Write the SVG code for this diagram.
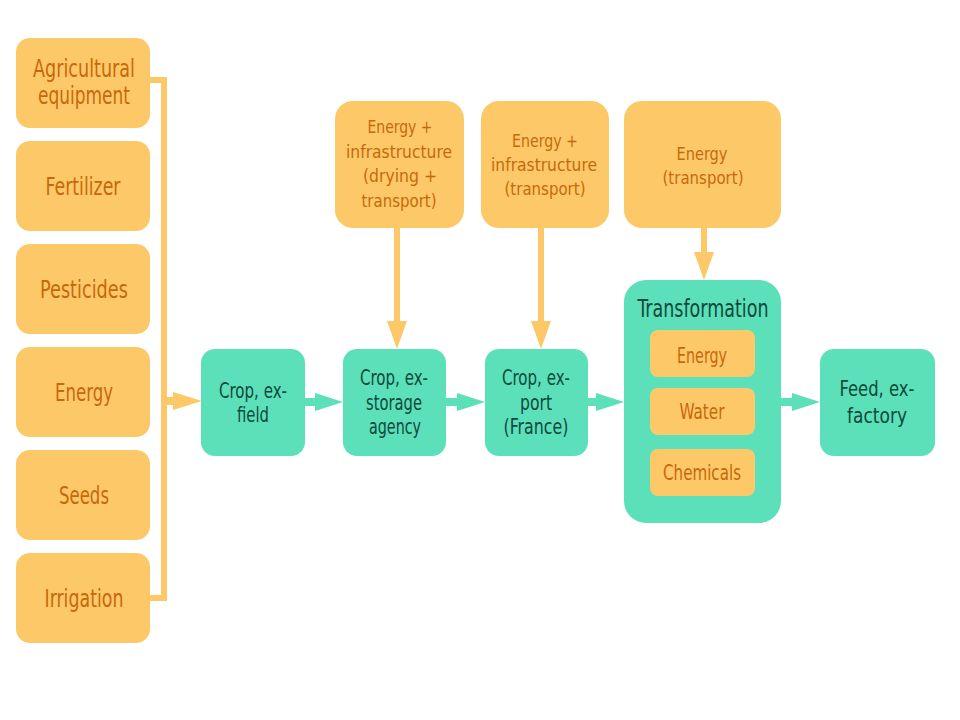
<svg xmlns="http://www.w3.org/2000/svg" width="960" height="720" viewBox="0 0 960 720">
<style>
.o{fill:#FDC968}
.t{fill:#5BE0BA}
text{font-family:"DejaVu Sans Condensed","DejaVu Sans",sans-serif;text-anchor:middle}
.ot{fill:#C8680C}
.tt{fill:#0D4A3A}
.ol{stroke:#FDC968;stroke-width:6;fill:none}
.ols{stroke:#FDC968;stroke-width:8;fill:none}
.tl{stroke:#5BE0BA;stroke-width:8;fill:none}
</style>
<rect width="960" height="720" fill="#fff"/>
<g id="connectors">
<polyline class="ol" points="150,80 164,80 164,598 150,598"/>
<line class="ols" x1="164" y1="401" x2="176" y2="401"/>
<polygon class="o" points="173,392 202,401 173,410"/>
<line class="ol" x1="397" y1="228" x2="397" y2="325"/>
<polygon class="o" points="387,321 397,349 407,321"/>
<line class="ol" x1="541" y1="228" x2="541" y2="325"/>
<polygon class="o" points="531,321 541,349 551,321"/>
<line class="ol" x1="704" y1="228" x2="704" y2="256"/>
<polygon class="o" points="694,252 704,280 714,252"/>
<line class="tl" x1="305" y1="402" x2="318" y2="402"/>
<polygon class="t" points="315,393 343,402 315,411"/>
<line class="tl" x1="446" y1="402" x2="460" y2="402"/>
<polygon class="t" points="457,393 485,402 457,411"/>
<line class="tl" x1="588" y1="402" x2="599" y2="402"/>
<polygon class="t" points="596,393 624,402 596,411"/>
<line class="tl" x1="781" y1="402" x2="795" y2="402"/>
<polygon class="t" points="792,393 820,402 792,411"/>
</g>
<g id="agri"><rect class="o" x="16" y="38" width="134" height="90" rx="14"/><text class="ot" font-size="25" x="84" y="77" textLength="102" lengthAdjust="spacingAndGlyphs">Agricultural</text><text class="ot" font-size="25" x="84" y="104" textLength="92" lengthAdjust="spacingAndGlyphs">equipment</text></g>
<g id="fert"><rect class="o" x="16" y="141" width="134" height="90" rx="14"/><text class="ot" font-size="25" x="83" y="195" textLength="75" lengthAdjust="spacingAndGlyphs">Fertilizer</text></g>
<g id="pest"><rect class="o" x="16" y="244" width="134" height="90" rx="14"/><text class="ot" font-size="25" x="84" y="298" textLength="88" lengthAdjust="spacingAndGlyphs">Pesticides</text></g>
<g id="energy"><rect class="o" x="16" y="347" width="134" height="90" rx="14"/><text class="ot" font-size="25" x="84" y="401" textLength="58" lengthAdjust="spacingAndGlyphs">Energy</text></g>
<g id="seeds"><rect class="o" x="16" y="450" width="134" height="90" rx="14"/><text class="ot" font-size="25" x="84" y="504" textLength="50" lengthAdjust="spacingAndGlyphs">Seeds</text></g>
<g id="irr"><rect class="o" x="16" y="553" width="134" height="90" rx="14"/><text class="ot" font-size="25" x="84" y="607" textLength="79" lengthAdjust="spacingAndGlyphs">Irrigation</text></g>
<g id="topA"><rect class="o" x="335" y="101" width="129" height="127" rx="18"/>
<text class="ot" font-size="18" x="400" y="133" textLength="65" lengthAdjust="spacingAndGlyphs">Energy +</text>
<text class="ot" font-size="18" x="399" y="158" textLength="106" lengthAdjust="spacingAndGlyphs">infrastructure</text>
<text class="ot" font-size="18" x="400" y="182" textLength="74" lengthAdjust="spacingAndGlyphs">(drying +</text>
<text class="ot" font-size="18" x="399" y="207" textLength="75" lengthAdjust="spacingAndGlyphs">transport)</text></g>
<g id="topB"><rect class="o" x="481" y="101" width="128" height="127" rx="18"/>
<text class="ot" font-size="18" x="545" y="147" textLength="66" lengthAdjust="spacingAndGlyphs">Energy +</text>
<text class="ot" font-size="18" x="544" y="171" textLength="106" lengthAdjust="spacingAndGlyphs">infrastructure</text>
<text class="ot" font-size="18" x="545" y="195" textLength="81" lengthAdjust="spacingAndGlyphs">(transport)</text></g>
<g id="topC"><rect class="o" x="624" y="101" width="157" height="127" rx="18"/>
<text class="ot" font-size="18" x="702" y="160" textLength="51" lengthAdjust="spacingAndGlyphs">Energy</text>
<text class="ot" font-size="18" x="703" y="184" textLength="81" lengthAdjust="spacingAndGlyphs">(transport)</text></g>
<g id="field"><rect class="t" x="201" y="349" width="104" height="107" rx="14"/>
<text class="tt" font-size="21" x="253" y="398" textLength="68" lengthAdjust="spacingAndGlyphs">Crop, ex-</text>
<text class="tt" font-size="21" x="253" y="422" textLength="32" lengthAdjust="spacingAndGlyphs">field</text></g>
<g id="storage"><rect class="t" x="343" y="349" width="103" height="107" rx="14"/>
<text class="tt" font-size="21" x="394" y="385" textLength="68" lengthAdjust="spacingAndGlyphs">Crop, ex-</text>
<text class="tt" font-size="21" x="394" y="410" textLength="56" lengthAdjust="spacingAndGlyphs">storage</text>
<text class="tt" font-size="21" x="395" y="434" textLength="52" lengthAdjust="spacingAndGlyphs">agency</text></g>
<g id="port"><rect class="t" x="485" y="349" width="103" height="107" rx="14"/>
<text class="tt" font-size="21" x="536" y="385" textLength="68" lengthAdjust="spacingAndGlyphs">Crop, ex-</text>
<text class="tt" font-size="21" x="536" y="410" textLength="32" lengthAdjust="spacingAndGlyphs">port</text>
<text class="tt" font-size="21" x="536" y="434" textLength="65" lengthAdjust="spacingAndGlyphs">(France)</text></g>
<g id="transf"><rect class="t" x="624" y="280" width="157" height="243" rx="22"/>
<text class="tt" font-size="24" x="703" y="317" textLength="131" lengthAdjust="spacingAndGlyphs">Transformation</text>
<rect class="o" x="650" y="330" width="105" height="47" rx="8"/><text class="ot" font-size="21" x="702" y="363" textLength="50" lengthAdjust="spacingAndGlyphs">Energy</text>
<rect class="o" x="650" y="388" width="105" height="47" rx="8"/><text class="ot" font-size="21" x="702" y="419" textLength="45" lengthAdjust="spacingAndGlyphs">Water</text>
<rect class="o" x="650" y="449" width="105" height="47" rx="8"/><text class="ot" font-size="21" x="702" y="480" textLength="78" lengthAdjust="spacingAndGlyphs">Chemicals</text></g>
<g id="feed"><rect class="t" x="820" y="349" width="115" height="107" rx="14"/>
<text class="tt" font-size="22" x="877" y="396" textLength="75" lengthAdjust="spacingAndGlyphs">Feed, ex-</text>
<text class="tt" font-size="22" x="877" y="423" textLength="60" lengthAdjust="spacingAndGlyphs">factory</text></g>
</svg>
